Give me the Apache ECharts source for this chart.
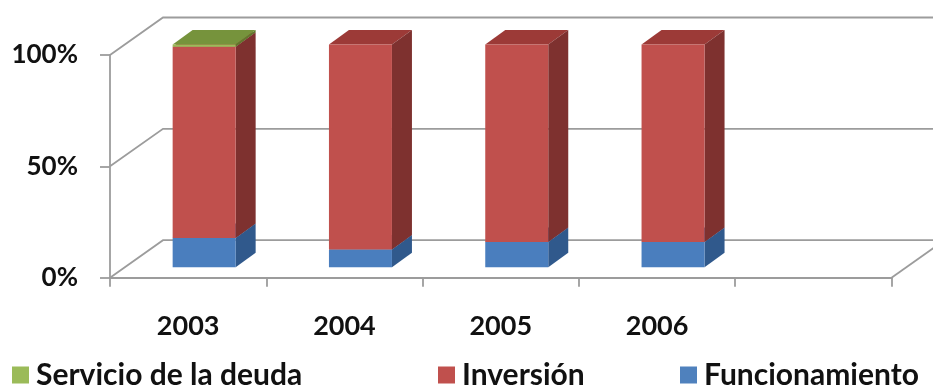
<!DOCTYPE html>
<html>
<head>
<meta charset="utf-8">
<script src="https://cdn.jsdelivr.net/npm/echarts@6/dist/echarts.min.js"></script>
<style>
  html, body { margin: 0; padding: 0; background: #ffffff; }
  #chart { width: 933px; height: 388px; }
</style>
</head>
<body>
<div id="chart"></div>
<script>
// Budget composition by year (percent of total)
const categories = ['2003', '2004', '2005', '2006', ''];
const funcionamiento = [13.1, 7.9, 11.3, 11.3];
const inversion = [85.9, 92.1, 88.7, 88.7];
const servicioDeuda = [1.0, 0, 0, 0];
const percentTicks = [0, 50, 100];

// Oblique projection offsets for the pseudo-3D look
const WALL_DX = 53, WALL_DY = -37.5;      // back wall relative to front axis plane
const BAR_DX = 16, BAR_DY = -10.5;        // bar front face relative to front axis plane
const DEPTH_DX = 20, DEPTH_DY = -14.5;    // bar depth
const BAR_W = 63;

const FONT = 'Lato, "Open Sans", "DejaVu Sans", sans-serif';
const GRID_COLOR = '#9c9c9c';

// Stack the segments: [category, base, top]
function stackRows(values, below) {
  return values.map((v, i) => {
    const base = below.reduce((s, arr) => s + arr[i], 0);
    return [categories[i], base, base + v];
  });
}

function boxRenderer(front, side, top) {
  return function (params, api) {
    const lo = api.value(1), hi = api.value(2);
    if (hi - lo <= 0) return null;
    const pLo = api.coord([api.value(0), lo]);
    const pHi = api.coord([api.value(0), hi]);
    const cx = pLo[0] + BAR_DX;
    const xl = cx - BAR_W / 2, xr = cx + BAR_W / 2;
    const yb = pLo[1] + BAR_DY, yt = pHi[1] + BAR_DY;
    return {
      type: 'group',
      children: [
        { type: 'polygon', shape: { points: [[xl, yt], [xr, yt], [xr + DEPTH_DX, yt + DEPTH_DY], [xl + DEPTH_DX, yt + DEPTH_DY]] },
          style: { fill: top } },
        { type: 'polygon', shape: { points: [[xr, yb], [xr + DEPTH_DX, yb + DEPTH_DY], [xr + DEPTH_DX, yt + DEPTH_DY], [xr, yt]] },
          style: { fill: side } },
        { type: 'rect', shape: { x: xl, y: yt, width: BAR_W, height: yb - yt },
          style: { fill: front } }
      ]
    };
  };
}

// Back wall gridlines, side wall diagonals and floor edge
function wallRenderer(params, api) {
  const cs = params.coordSys;
  const x0 = cs.x, x1 = cs.x + cs.width;
  const v = api.value(1);
  const y = api.coord([0, v])[1];
  const children = [{
    type: 'polyline',
    shape: { points: [[x0, y], [x0 + WALL_DX, y + WALL_DY], [x1 + WALL_DX, y + WALL_DY]] },
    style: { stroke: GRID_COLOR, lineWidth: 1.8, fill: null }
  }];
  if (v === 0) {
    children.push({
      type: 'line',
      shape: { x1: x1, y1: y, x2: x1 + WALL_DX, y2: y + WALL_DY },
      style: { stroke: GRID_COLOR, lineWidth: 1.8 }
    });
  }
  return { type: 'group', children };
}

const rowsFunc = stackRows(funcionamiento, []);
const rowsInv = stackRows(inversion, [funcionamiento]);
const rowsServ = stackRows(servicioDeuda, [funcionamiento, inversion]);

const legendText = { fontFamily: FONT, fontWeight: 'bold', fontSize: 30, color: '#111', padding: [0, 0, 0, 2] };
const legendBase = { top: 360, padding: 0, icon: 'rect', itemWidth: 17, itemHeight: 17, textStyle: legendText, selectedMode: false };

const chart = echarts.init(document.getElementById('chart'), null, { renderer: 'canvas' });
chart.setOption({
  animation: false,
  backgroundColor: '#ffffff',
  grid: { left: 110, right: 41.5, top: 55, bottom: 110.3 },
  legend: [
    Object.assign({}, legendBase, { left: 12, data: ['Servicio de la deuda'] }),
    Object.assign({}, legendBase, { left: 438, data: ['Inversión'] }),
    Object.assign({}, legendBase, { left: 680, data: ['Funcionamiento'] })
  ],
  xAxis: {
    type: 'category',
    data: categories,
    boundaryGap: true,
    axisLine: { show: true, lineStyle: { color: GRID_COLOR, width: 1.8 } },
    axisTick: { show: true, alignWithLabel: false, length: 9, lineStyle: { color: GRID_COLOR, width: 1.8 } },
    axisLabel: { margin: 35, fontFamily: FONT, fontWeight: 'bold', fontSize: 27, color: '#111' },
    splitLine: { show: false }
  },
  yAxis: {
    type: 'value',
    min: 0, max: 100, interval: 50,
    axisLine: { show: true, lineStyle: { color: GRID_COLOR, width: 1.8 } },
    axisTick: { show: true, length: 10, lineStyle: { color: GRID_COLOR, width: 1.8 } },
    axisLabel: { margin: 32, formatter: '{value}%', fontFamily: FONT, fontWeight: 'bold', fontSize: 26, color: '#111' },
    splitLine: { show: false }
  },
  series: [
    { type: 'custom', name: 'walls', z: 1, silent: true,
      data: percentTicks.map(v => [0, v]), renderItem: wallRenderer },
    { type: 'custom', name: 'Funcionamiento', z: 2, itemStyle: { color: '#4F81BD' },
      encode: { x: 0, y: [1, 2] }, data: rowsFunc,
      renderItem: boxRenderer('#4A7EBE', '#30598C', '#3C69A0') },
    { type: 'custom', name: 'Inversión', z: 2, itemStyle: { color: '#C0504D' },
      encode: { x: 0, y: [1, 2] }, data: rowsInv,
      renderItem: boxRenderer('#C0504D', '#7E312F', '#9C3A37') },
    { type: 'custom', name: 'Servicio de la deuda', z: 2, itemStyle: { color: '#9BBB59' },
      encode: { x: 0, y: [1, 2] }, data: rowsServ,
      renderItem: boxRenderer('#9BBB59', '#5F7A2D', '#76933C') }
  ]
});
</script>
</body>
</html>
